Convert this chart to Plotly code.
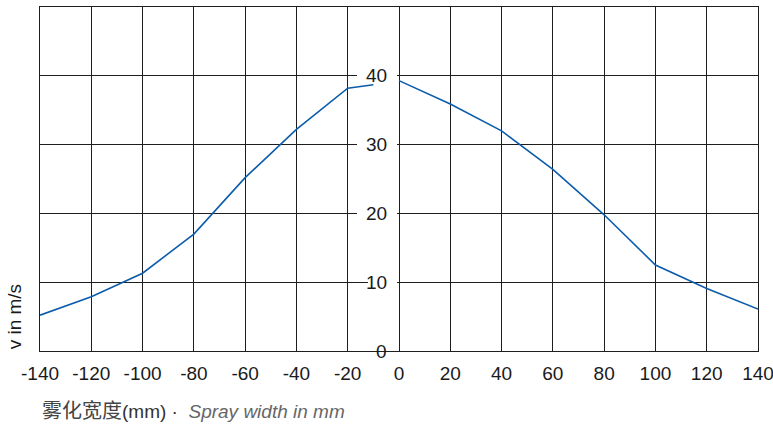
import plotly.graph_objects as go

# Data
left_x = [-140, -120, -100, -80, -60, -40, -20, -10]
left_v = [5.2, 7.9, 11.3, 17.0, 25.2, 32.2, 38.2, 38.7]
right_x = [0, 20, 40, 60, 80, 100, 120, 140]
right_v = [39.3, 35.9, 32.0, 26.4, 19.8, 12.5, 9.1, 6.1]

x_ticks = [-140, -120, -100, -80, -60, -40, -20, 0, 20, 40, 60, 80, 100, 120, 140]
y_ticks = [0, 10, 20, 30, 40]
y_tick_labels = ["0", "10", "20", "30", "40"]
y_mask_px = [29, 29, 40, 40, 40]

LINE = "#0b5cab"
GRID = "#1e1e1e"
FONT = "Liberation Sans, Arial, sans-serif"

fig = go.Figure()
fig.add_trace(go.Scatter(x=left_x, y=left_v, mode="lines",
                         line=dict(color=LINE, width=1.6), showlegend=False, hoverinfo="skip"))
fig.add_trace(go.Scatter(x=right_x, y=right_v, mode="lines",
                         line=dict(color=LINE, width=1.6), showlegend=False, hoverinfo="skip"))

# y tick labels in the middle of the chart, with gaps cut in the grid lines
for v, lab, w in zip(y_ticks, y_tick_labels, y_mask_px):
    fig.add_shape(type="rect", layer="above" if v == 0 else "between",
                  xref="x", yref="y", xsizemode="pixel", ysizemode="pixel",
                  xanchor=0, yanchor=v, x0=-2 - w, x1=-2, y0=-2, y1=2,
                  fillcolor="white", line=dict(width=0))
    fig.add_annotation(x=0, y=v, xref="x", yref="y", text=lab, showarrow=False,
                       xanchor="right", yanchor="middle", xshift=-10,
                       font=dict(family=FONT, size=19, color="#1a1a1a"))

# axis titles
fig.add_annotation(xref="paper", yref="paper", x=-0.035, y=0, text="v in m/s",
                   textangle=-90, showarrow=False, xanchor="center", yanchor="bottom",
                   font=dict(family=FONT, size=19, color="#1a1a1a"))
fig.add_annotation(xref="paper", yref="paper", x=0, y=-0.17, yanchor="middle", xanchor="left",
                   text="<span style='font-family:Noto Sans CJK SC;font-size:20px;color:#444'>雾化宽度</span>"
                        "<span style='color:#333'>(mm) · &nbsp;</span>"
                        "<i style='color:#666'>Spray width in mm</i>",
                   showarrow=False, font=dict(family=FONT, size=19, color="#333"))

fig.update_xaxes(range=[-140, 140], tickvals=x_ticks, ticktext=[str(t) for t in x_ticks],
                 showgrid=True, gridcolor=GRID, gridwidth=1, zeroline=False,
                 showline=True, mirror=True, linecolor=GRID, linewidth=1,
                 ticks="", ticklabelstandoff=5, ticklabeloverflow="allow", automargin=False,
                 tickfont=dict(family=FONT, size=19, color="#1a1a1a"))
fig.update_yaxes(range=[0, 50], tickvals=[0, 10, 20, 30, 40, 50], showticklabels=False,
                 showgrid=True, gridcolor=GRID, gridwidth=1, zeroline=False,
                 showline=True, mirror=True, linecolor=GRID, linewidth=1, ticks="",
                 automargin=False)

fig.update_layout(width=773, height=425, margin=dict(l=40, r=15, t=7, b=74),
                  plot_bgcolor="white", paper_bgcolor="white")

fig.write_html("out.html")
